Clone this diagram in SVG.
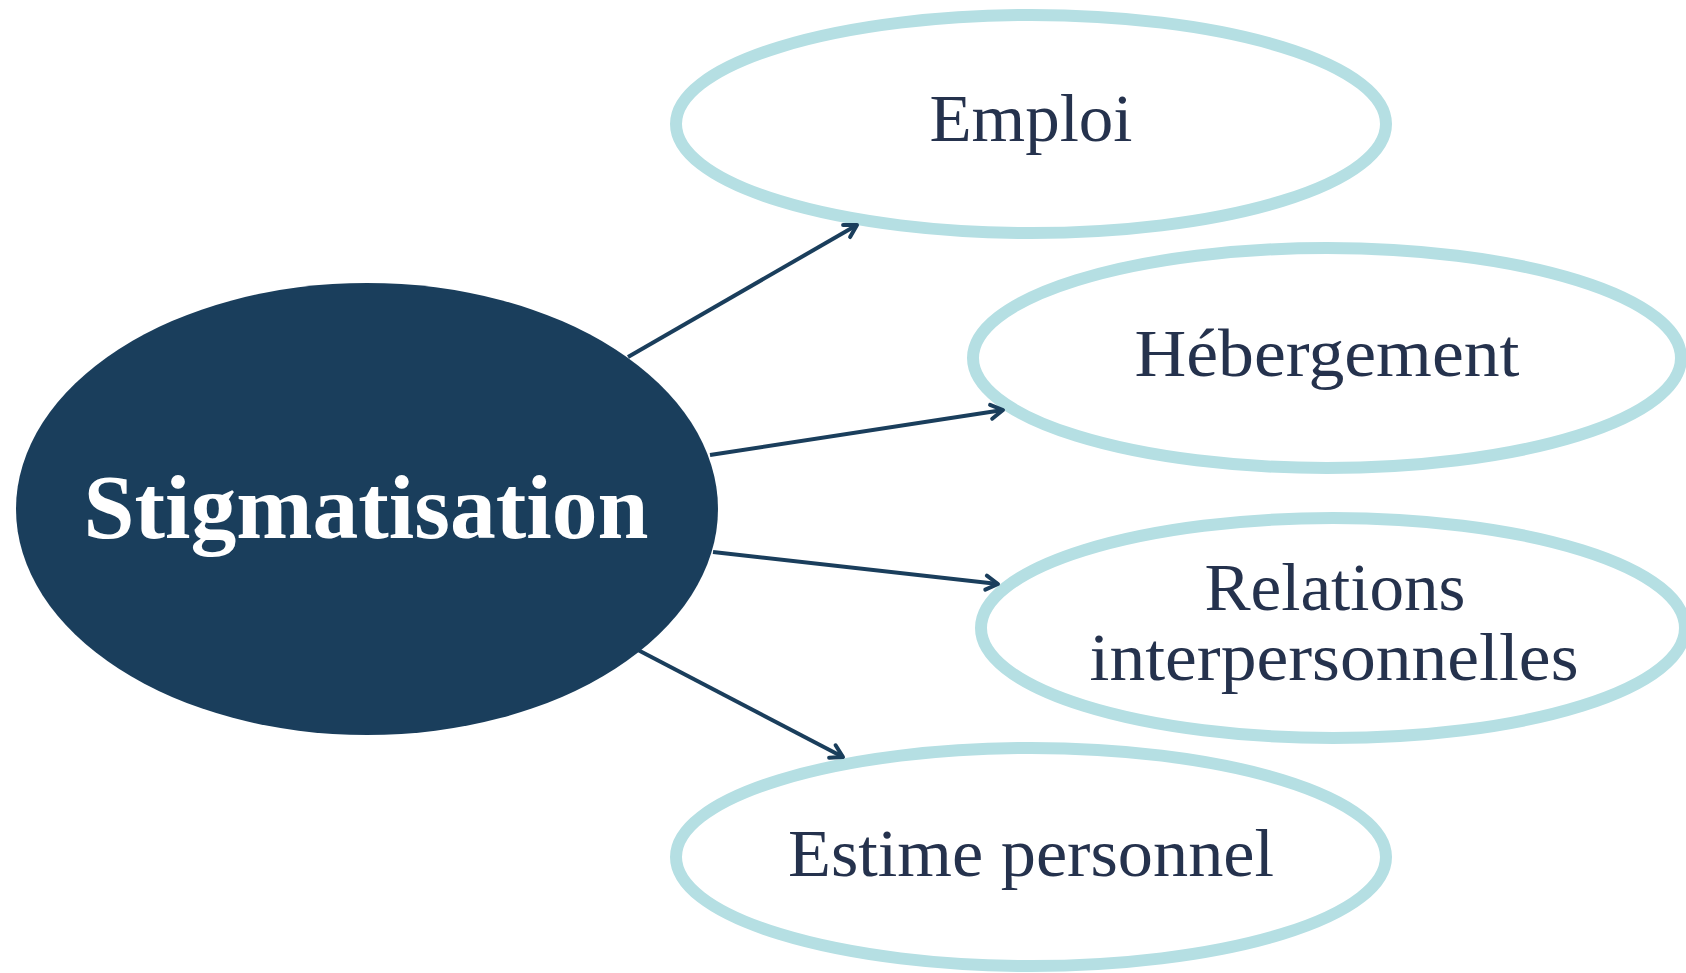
<svg xmlns="http://www.w3.org/2000/svg" width="1686" height="973" viewBox="0 0 1686 973">
<style>
.leaf{fill:#ffffff;stroke:#b5dfe3;stroke-width:12}
.lbl{font-family:"Liberation Serif","DejaVu Serif",serif;font-size:67px;fill:#25324d;text-anchor:middle}
.conn{stroke:#1a3e5c;stroke-width:4;fill:none;marker-end:url(#arr)}
</style>
<defs>
<marker id="arr" viewBox="0 0 20 20" refX="17" refY="10" markerWidth="20" markerHeight="20" markerUnits="userSpaceOnUse" orient="auto">
<path d="M5,3 L17,10 L5,17" fill="none" stroke="#1a3e5c" stroke-width="4" stroke-linecap="round" stroke-linejoin="round"/>
</marker>
</defs>
<rect width="1686" height="973" fill="#ffffff"/>
<g id="n-emploi">
<ellipse class="leaf" cx="1031" cy="124" rx="355" ry="109"/>
<text class="lbl" x="1031" y="141" textLength="203" lengthAdjust="spacingAndGlyphs">Emploi</text>
</g>
<g id="n-hebergement">
<ellipse class="leaf" cx="1327" cy="358" rx="354" ry="110"/>
<text class="lbl" x="1327" y="376" textLength="385" lengthAdjust="spacingAndGlyphs">Hébergement</text>
</g>
<g id="n-relations">
<ellipse class="leaf" cx="1333" cy="628" rx="352" ry="110"/>
<text class="lbl" x="1335" y="610" textLength="261" lengthAdjust="spacingAndGlyphs">Relations</text>
<text class="lbl" x="1334" y="680" textLength="489" lengthAdjust="spacingAndGlyphs">interpersonnelles</text>
</g>
<g id="n-estime">
<ellipse class="leaf" cx="1031" cy="857" rx="355" ry="109"/>
<text class="lbl" x="1031" y="876" textLength="486" lengthAdjust="spacingAndGlyphs">Estime personnel</text>
</g>
<g id="connectors">
<line class="conn" x1="628" y1="357" x2="857" y2="225"/>
<line class="conn" x1="710" y1="455" x2="1003" y2="410"/>
<line class="conn" x1="713" y1="552" x2="998" y2="584"/>
<line class="conn" x1="638" y1="650" x2="843" y2="757"/>
</g>
<g id="n-stigmatisation">
<ellipse cx="367" cy="509" rx="351" ry="226" fill="#1a3e5c"/>
<text x="366" y="538" font-family="Liberation Serif, DejaVu Serif, serif" font-weight="bold" font-size="92" fill="#ffffff" text-anchor="middle" textLength="565" lengthAdjust="spacingAndGlyphs">Stigmatisation</text>
</g>
</svg>
